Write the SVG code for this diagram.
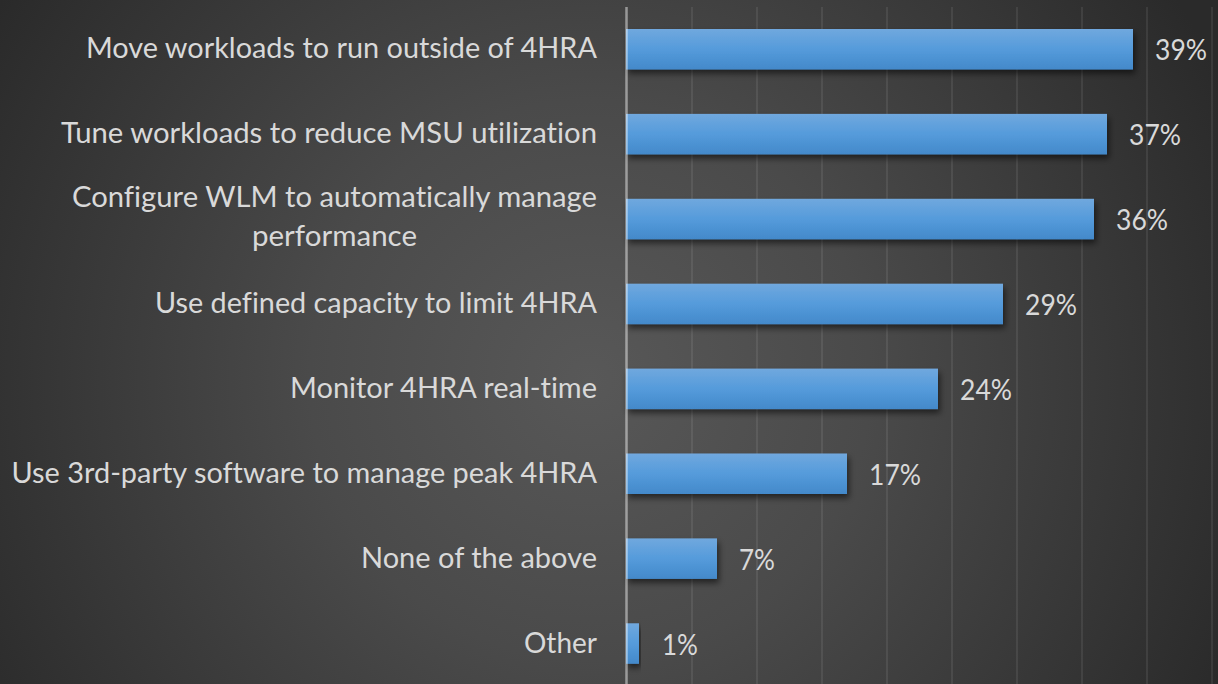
<svg xmlns="http://www.w3.org/2000/svg" width="1218" height="684" viewBox="0 0 1218 684">
  <defs>
    <radialGradient id="bg" gradientUnits="userSpaceOnUse" cx="590" cy="380" r="700">
      <stop offset="0" stop-color="#585858"/>
      <stop offset="0.4" stop-color="#4a4a4a"/>
      <stop offset="1" stop-color="#2a2a2a"/>
    </radialGradient>
    <linearGradient id="barFill" x1="0" y1="0" x2="0" y2="1">
      <stop offset="0" stop-color="#70a8de"/>
      <stop offset="0.5" stop-color="#559bdb"/>
      <stop offset="1" stop-color="#4389ca"/>
    </linearGradient>
    <filter id="barShadow" x="-5%" y="-20%" width="115%" height="160%">
      <feDropShadow dx="2" dy="4" stdDeviation="3" flood-color="#000" flood-opacity="0.55"/>
    </filter>
  </defs>
  <style>
    .grid { stroke: #ffffff; stroke-opacity: 0.1; stroke-width: 1.6; }
    .axis { stroke: #ffffff; stroke-opacity: 0.45; stroke-width: 2.5; }
    .bar { fill: url(#barFill); filter: url(#barShadow); }
    .cat, .val { font-family: "Lato", "Liberation Sans", sans-serif; font-size: 28.5px; fill: #d9d9d9;
                 font-variant-ligatures: none; font-feature-settings: "liga" 0, "clig" 0; }
  </style>

  <!-- background -->
  <rect x="0" y="0" width="1218" height="684" fill="url(#bg)"/>

  <!-- vertical gridlines, one every 5% -->
  <g id="gridlines">
    <line class="grid" x1="692" y1="7" x2="692" y2="684"/>
    <line class="grid" x1="757" y1="7" x2="757" y2="684"/>
    <line class="grid" x1="822" y1="7" x2="822" y2="684"/>
    <line class="grid" x1="887" y1="7" x2="887" y2="684"/>
    <line class="grid" x1="952" y1="7" x2="952" y2="684"/>
    <line class="grid" x1="1017" y1="7" x2="1017" y2="684"/>
    <line class="grid" x1="1082" y1="7" x2="1082" y2="684"/>
    <line class="grid" x1="1147" y1="7" x2="1147" y2="684"/>
    <line class="grid" x1="1212" y1="7" x2="1212" y2="684"/>
  </g>

  <!-- bars: 13px per percent, starting at x=626 -->
  <g id="bar-move">
    <rect class="bar" x="626" y="29" width="507" height="40.5"/>
    <text class="cat" x="86" y="58.3" textLength="511" lengthAdjust="spacingAndGlyphs">Move workloads to run outside of 4HRA</text>
    <text class="val" x="1155" y="60.3" textLength="52" lengthAdjust="spacingAndGlyphs">39%</text>
  </g>
  <g id="bar-tune">
    <rect class="bar" x="626" y="113.9" width="481" height="40.5"/>
    <text class="cat" x="61" y="143.2" textLength="536" lengthAdjust="spacingAndGlyphs">Tune workloads to reduce MSU utilization</text>
    <text class="val" x="1129" y="145.2" textLength="52" lengthAdjust="spacingAndGlyphs">37%</text>
  </g>
  <g id="bar-wlm">
    <rect class="bar" x="626" y="198.8" width="468" height="40.5"/>
    <text class="cat" x="72" y="207.3" textLength="525" lengthAdjust="spacingAndGlyphs">Configure WLM to automatically manage</text>
    <text class="cat" x="252" y="245.8" textLength="165" lengthAdjust="spacingAndGlyphs">performance</text>
    <text class="val" x="1116" y="230" textLength="52" lengthAdjust="spacingAndGlyphs">36%</text>
  </g>
  <g id="bar-capacity">
    <rect class="bar" x="626" y="283.7" width="377" height="40.5"/>
    <text class="cat" x="155" y="313" textLength="442" lengthAdjust="spacingAndGlyphs">Use defined capacity to limit 4HRA</text>
    <text class="val" x="1025" y="315" textLength="52" lengthAdjust="spacingAndGlyphs">29%</text>
  </g>
  <g id="bar-monitor">
    <rect class="bar" x="626" y="368.6" width="312" height="40.5"/>
    <text class="cat" x="290" y="397.9" textLength="307" lengthAdjust="spacingAndGlyphs">Monitor 4HRA real-time</text>
    <text class="val" x="960" y="399.9" textLength="52" lengthAdjust="spacingAndGlyphs">24%</text>
  </g>
  <g id="bar-thirdparty">
    <rect class="bar" x="626" y="453.5" width="221" height="40.5"/>
    <text class="cat" x="11.5" y="482.8" textLength="585.5" lengthAdjust="spacingAndGlyphs">Use 3rd-party software to manage peak 4HRA</text>
    <text class="val" x="869" y="484.8" textLength="52" lengthAdjust="spacingAndGlyphs">17%</text>
  </g>
  <g id="bar-none">
    <rect class="bar" x="626" y="538.4" width="91" height="40.5"/>
    <text class="cat" x="361" y="567.7" textLength="236" lengthAdjust="spacingAndGlyphs">None of the above</text>
    <text class="val" x="739" y="569.7" textLength="36" lengthAdjust="spacingAndGlyphs">7%</text>
  </g>
  <g id="bar-other">
    <rect class="bar" x="626" y="623.3" width="13" height="40.5"/>
    <text class="cat" x="524" y="652.6" textLength="73" lengthAdjust="spacingAndGlyphs">Other</text>
    <text class="val" x="662" y="654.6" textLength="36" lengthAdjust="spacingAndGlyphs">1%</text>
  </g>

  <!-- category axis, drawn over the bar bases -->
  <g id="connectors">
    <line class="axis" x1="626.5" y1="7" x2="626.5" y2="684"/>
  </g>
</svg>
